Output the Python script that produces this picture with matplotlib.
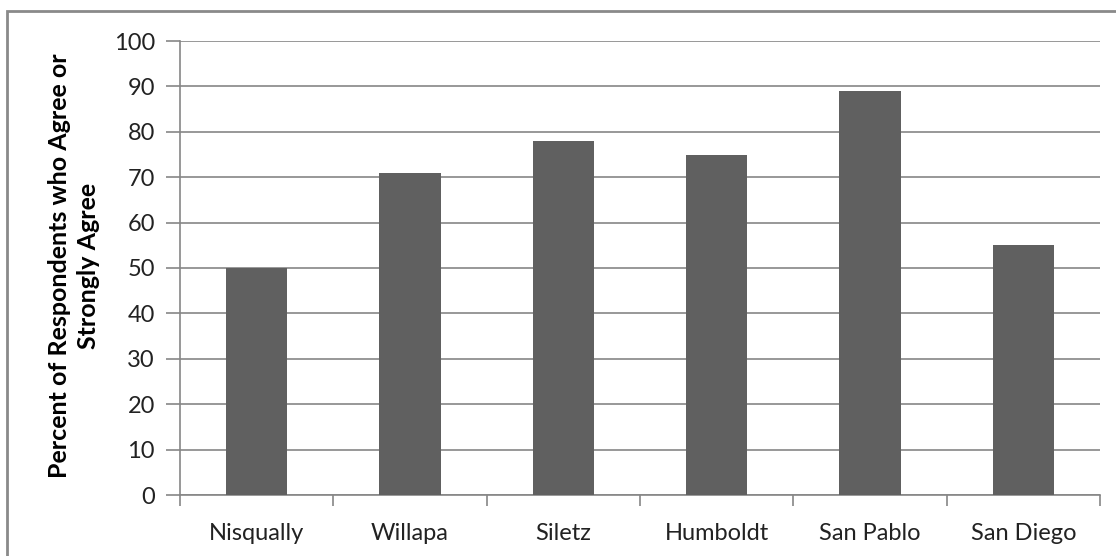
import numpy as np
import matplotlib.pyplot as plt
import matplotlib.patches as patches

#%% datos
sitios = ['Nisqually', 'Willapa', 'Siletz', 'Humboldt', 'San Pablo', 'San Diego']
porcentaje = [50, 71, 78, 75, 89, 55]

plt.rcParams['font.family'] = ['Lato', 'DejaVu Sans']

#%% grafico
fig = plt.figure(figsize=(11.16, 5.56), dpi=100)
ax = fig.add_axes([180/1116, 1 - 495/556, 920/1116, 454/556])

x = np.arange(len(sitios))
ax.bar(x, porcentaje, width=0.4, color='#606060', zorder=3)

ax.set_xlim(-0.5, len(sitios) - 0.5)
ax.set_ylim(0, 100)
ax.set_yticks(np.arange(0, 101, 10))
ax.yaxis.grid(True, color='#868686', linewidth=1.2, zorder=0)

# ticks del eje x entre categorias
ax.set_xticks(np.arange(-0.5, len(sitios), 1.0))
ax.set_xticklabels([])
ax.set_xticks(x, minor=True)
ax.set_xticklabels(sitios, minor=True, fontsize=17, color='#222222')
ax.tick_params(axis='x', which='minor', length=0, pad=20)
ax.tick_params(axis='x', which='major', length=8, color='#868686', width=1.2)
ax.tick_params(axis='y', length=10, color='#868686', width=1.2,
               labelsize=17, labelcolor='#222222', pad=8)

for s in ['top', 'right']:
    ax.spines[s].set_visible(False)
for s in ['left', 'bottom']:
    ax.spines[s].set_color('#868686')
    ax.spines[s].set_linewidth(1.2)

# titulo del eje y (dos lineas)
fig.text(74/1116, 1 - 266/556, 'Percent of Respondents who Agree or\nStrongly Agree',
         rotation=90, ha='center', va='center', multialignment='center',
         fontsize=18, fontweight='bold', linespacing=1.35)

# borde del grafico
borde = patches.Rectangle((7/1116, -0.1), 1.2, 1 - 11/556 + 0.1,
                          transform=fig.transFigure, fill=False,
                          edgecolor='#8a8a8a', linewidth=2)
fig.patches.append(borde)

fig.savefig('out.png', dpi=100)
